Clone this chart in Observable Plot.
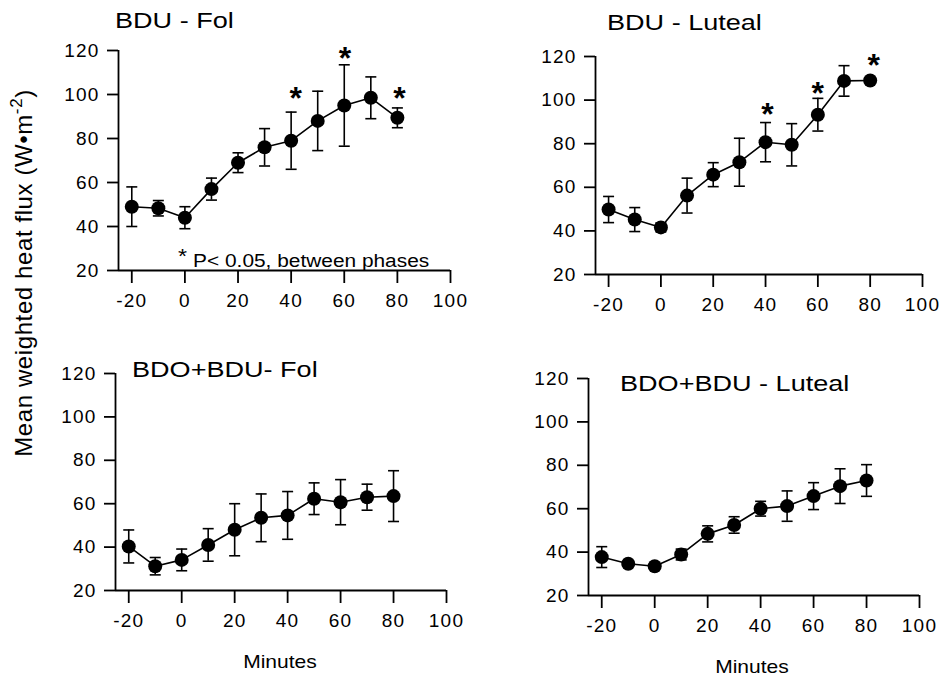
<!DOCTYPE html>
<html><head><meta charset="utf-8">
<script src="https://cdn.jsdelivr.net/npm/d3@7"></script>
<script src="https://cdn.jsdelivr.net/npm/@observablehq/plot@0.6"></script>
<style>
html,body{margin:0;padding:0;background:#fff;overflow:hidden;}
#root{position:relative;width:941px;height:678px;font-family:"Liberation Sans",Arial,Helvetica,sans-serif;}
.panel{position:absolute;}
#overlay{position:absolute;left:0;top:0;pointer-events:none;}
</style></head><body><div id="root"></div>
<script>
// ---------- data ----------
const minutes = [-20, -10, 0, 10, 20, 30, 40, 50, 60, 70, 80];

const bduFolMean = [49, 48.3, 44, 57, 69, 76, 79, 88, 95, 98.5, 89.4];
const bduFolErr  = [9, 3.5, 5, 5, 4.5, 8.5, 13, 13.5, 18.5, 9.5, 4.5];

const bduLutMean = [49.8, 45.2, 41.6, 56.2, 65.8, 71.5, 80.7, 79.5, 93.3, 108.8, 109];
const bduLutErr  = [6, 5.5, 2, 8, 5.5, 11, 9, 9.7, 7.5, 7, 1];

const bdoFolMean = [40.3, 31.2, 34.1, 41, 48, 53.5, 54.6, 62.3, 60.7, 63, 63.5];
const bdoFolErr  = [7.6, 4, 5, 7.5, 12, 11, 11, 7.3, 10.4, 6, 11.7];

const bdoLutMean = [37.7, 34.6, 33.5, 38.9, 48.4, 52.5, 60, 61.2, 65.8, 70.4, 73];
const bdoLutErr  = [4.8, 1, 1, 2.5, 3.7, 3.8, 3.4, 7, 6.2, 8, 7.3];

// significance stars (P < 0.05 between phases)
const bduFolStarX = [42, 60.5, 81];
const bduFolStarY = [101.8, 120, 101.8];
const bduLutStarX = [41, 60.2, 81.6];
const bduLutStarY = [97, 106.6, 119.5];
const starGlyph = "*";

const xTicks = [-20, 0, 20, 40, 60, 80, 100];
const yTicks = [20, 40, 60, 80, 100, 120];
const xDomain = [-25, 100];
const yDomain = [20, 120];

const panelTitles = ["BDU - Fol", "BDU - Luteal", "BDO+BDU- Fol", "BDO+BDU - Luteal"];
const xLabel = "Minutes";
const yLabelMain = "Mean weighted heat flux (W\u2022m";
const yLabelSup = "-2";
const yLabelEnd = ")";
const noteStar = "*";
const noteText = "P< 0.05, between phases";

// ---------- layout ----------
const ML = 62, MT = 14, MB = 44;
const boxes = [
  {left: 118, top: 50,  w: 332, h: 220, mr: 30},
  {left: 595, top: 56,  w: 327, h: 218, mr: 18},
  {left: 115, top: 373, w: 331, h: 217, mr: 30},
  {left: 588, top: 378, w: 331, h: 217, mr: 18}
];

const capSymbol = {
  draw(context) { context.moveTo(-5.5, 0); context.lineTo(5.5, 0); }
};

function makePanel(box, mean, err, sx, sy) {
  const data = minutes.map((m, j) => ({x: m, y: mean[j], lo: mean[j] - err[j], hi: mean[j] + err[j]}));
  const marks = [
    Plot.ruleY([yDomain[0]], {stroke: "#000", strokeWidth: 1.8}),
    Plot.ruleX([xDomain[0]], {stroke: "#000", strokeWidth: 1.8}),
    Plot.axisY({ticks: yTicks, tickSize: 11, tickPadding: 8, tickFormat: d => String(d), label: null, strokeWidth: 1.8}),
    Plot.axisX({ticks: xTicks, tickSize: 13, tickPadding: 10, tickFormat: d => String(d), label: null, strokeWidth: 1.8}),
    Plot.ruleX(data, {x: "x", y1: "lo", y2: "hi", stroke: "#000", strokeWidth: 1.6}),
    Plot.dot(data, {x: "x", y: "hi", symbol: capSymbol, stroke: "#000", fill: "none", strokeWidth: 1.6}),
    Plot.dot(data, {x: "x", y: "lo", symbol: capSymbol, stroke: "#000", fill: "none", strokeWidth: 1.6}),
    Plot.line(data, {x: "x", y: "y", stroke: "#000", strokeWidth: 1.6}),
    Plot.dot(data, {x: "x", y: "y", r: 7, fill: "#000", stroke: "none"})
  ];
  if (sx) {
    const stars = sx.map((x, j) => ({x, y: sy[j]}));
    marks.push(Plot.text(stars, {x: "x", y: "y", text: () => starGlyph, fontSize: 32, fontWeight: "bold", lineAnchor: "middle", dy: 8, fill: "#000"}));
  }
  const svg = Plot.plot({
    width: ML + box.w + box.mr,
    height: MT + box.h + MB,
    marginLeft: ML, marginRight: box.mr, marginTop: MT, marginBottom: MB,
    x: {domain: xDomain},
    y: {domain: yDomain},
    style: {fontSize: "19px", fontFamily: "'Liberation Sans', Arial, Helvetica, sans-serif", color: "#000", background: "transparent", overflow: "visible", letterSpacing: "1.2px"},
    marks
  });
  const div = document.createElement("div");
  div.className = "panel";
  div.style.left = (box.left - ML) + "px";
  div.style.top = (box.top - MT) + "px";
  div.appendChild(svg);
  document.getElementById("root").appendChild(div);
}

makePanel(boxes[0], bduFolMean, bduFolErr, bduFolStarX, bduFolStarY);
makePanel(boxes[1], bduLutMean, bduLutErr, bduLutStarX, bduLutStarY);
makePanel(boxes[2], bdoFolMean, bdoFolErr);
makePanel(boxes[3], bdoLutMean, bdoLutErr);

// ---------- text overlay ----------
const ov = d3.select("#root").append("svg").attr("id", "overlay")
  .attr("width", 941).attr("height", 678)
  .style("font-family", "'Liberation Sans', Arial, Helvetica, sans-serif");

const titlePos = [[115, 28], [607, 30], [132, 377], [620, 391]];
panelTitles.forEach((t, i) => {
  ov.append("text").attr("transform", `translate(${titlePos[i][0]},${titlePos[i][1]}) scale(1.23,1)`)
    .attr("font-size", 22).text(t);
});

[[280, 668], [752, 673]].forEach(p => {
  ov.append("text").attr("transform", `translate(${p[0]},${p[1]}) scale(1.17,1)`)
    .attr("font-size", 18).attr("text-anchor", "middle").text(xLabel);
});

const note = ov.append("g").attr("transform", "translate(178,267) scale(1.16,1)");
note.append("text").attr("font-size", 20).attr("dy", -4).text(noteStar);
note.append("text").attr("x", 13).attr("font-size", 18).text(noteText);

const yl = ov.append("text").attr("transform", "translate(32,273) rotate(-90)")
  .attr("font-size", 24).attr("text-anchor", "middle").attr("letter-spacing", "0.6px");
yl.append("tspan").text(yLabelMain);
yl.append("tspan").attr("dy", -10).attr("font-size", 17).text(yLabelSup);
yl.append("tspan").attr("dy", 10).text(yLabelEnd);
</script></body></html>
